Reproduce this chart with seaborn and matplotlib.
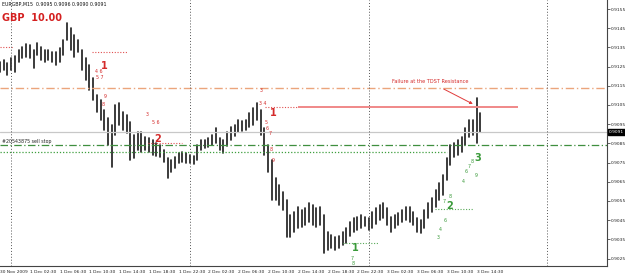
import numpy as np
import pandas as pd
import matplotlib
matplotlib.use("Agg")
import matplotlib.pyplot as plt
import seaborn as sns

# ---------------- data ----------------
# EURGBP M15 chart, bars sampled every 30 minutes (hours since 30 Nov 22:30)
bar_highs = [
    0.91274, 0.91284, 0.91269, 0.91295, 0.91305, 0.91337, 0.91352, 0.91368, 0.91363, 0.91337,
    0.91373, 0.91352, 0.91337, 0.91337, 0.91326, 0.91326, 0.91347, 0.91389, 0.91477, 0.91451,
    0.91415, 0.91389, 0.91337, 0.91295, 0.91258, 0.91191, 0.91102, 0.91076, 0.91024, 0.90982,
    0.90946, 0.91050, 0.91060, 0.91013, 0.90998, 0.90961, 0.90894, 0.90909, 0.90909, 0.90883,
    0.90878, 0.90868, 0.90852, 0.90842, 0.90816, 0.90774, 0.90763, 0.90779, 0.90800, 0.90805,
    0.90800, 0.90790, 0.90784, 0.90842, 0.90868, 0.90868, 0.90878, 0.90894, 0.90930, 0.90878,
    0.90868, 0.90909, 0.90935, 0.90946, 0.90972, 0.90967, 0.90972, 0.91008, 0.91034, 0.91060,
    0.91024, 0.90930, 0.90842, 0.90763, 0.90670, 0.90633, 0.90597, 0.90555, 0.90477, 0.90492,
    0.90519, 0.90503, 0.90513, 0.90539, 0.90529, 0.90513, 0.90519, 0.90477, 0.90388, 0.90373,
    0.90362, 0.90368, 0.90388, 0.90409, 0.90440, 0.90461, 0.90466, 0.90477, 0.90466, 0.90461,
    0.90492, 0.90513, 0.90529, 0.90539, 0.90513, 0.90466, 0.90477, 0.90487, 0.90503, 0.90519,
    0.90519, 0.90492, 0.90461, 0.90451, 0.90503, 0.90539, 0.90565, 0.90607, 0.90644, 0.90685,
    0.90774, 0.90842, 0.90852, 0.90868, 0.90883, 0.90930, 0.90972, 0.90972, 0.91086, 0.91008,
]
bar_lows = [
    0.91222, 0.91232, 0.91206, 0.91232, 0.91222, 0.91274, 0.91295, 0.91300, 0.91295, 0.91243,
    0.91310, 0.91284, 0.91274, 0.91284, 0.91274, 0.91258, 0.91274, 0.91310, 0.91389, 0.91337,
    0.91300, 0.91326, 0.91232, 0.91180, 0.91128, 0.91076, 0.91013, 0.90972, 0.90920, 0.90842,
    0.90727, 0.90894, 0.90946, 0.90920, 0.90904, 0.90763, 0.90774, 0.90816, 0.90805, 0.90816,
    0.90805, 0.90790, 0.90784, 0.90779, 0.90753, 0.90670, 0.90701, 0.90722, 0.90748, 0.90753,
    0.90748, 0.90748, 0.90743, 0.90763, 0.90816, 0.90826, 0.90831, 0.90842, 0.90852, 0.90816,
    0.90800, 0.90836, 0.90868, 0.90888, 0.90909, 0.90914, 0.90920, 0.90935, 0.90946, 0.90972,
    0.90894, 0.90790, 0.90701, 0.90555, 0.90555, 0.90529, 0.90503, 0.90362, 0.90362, 0.90388,
    0.90409, 0.90414, 0.90425, 0.90440, 0.90425, 0.90414, 0.90425, 0.90279, 0.90295, 0.90305,
    0.90295, 0.90305, 0.90321, 0.90331, 0.90368, 0.90388, 0.90399, 0.90409, 0.90420, 0.90399,
    0.90409, 0.90430, 0.90451, 0.90461, 0.90425, 0.90388, 0.90409, 0.90425, 0.90440, 0.90451,
    0.90440, 0.90425, 0.90388, 0.90383, 0.90409, 0.90461, 0.90492, 0.90519, 0.90555, 0.90581,
    0.90659, 0.90737, 0.90779, 0.90790, 0.90805, 0.90842, 0.90883, 0.90894, 0.90852, 0.90909,
]
bar_step_hours = 0.5

x_tick_hours = [0, 4, 8, 12, 16, 20, 24, 28, 32, 36, 40, 44, 48, 52, 56, 60, 64]
x_tick_labels = ["30 Nov 2009", "1 Dec 02:30", "1 Dec 06:30", "1 Dec 10:30", "1 Dec 14:30",
                 "1 Dec 18:30", "1 Dec 22:30", "2 Dec 02:30", "2 Dec 06:30", "2 Dec 10:30",
                 "2 Dec 14:30", "2 Dec 18:30", "2 Dec 22:30", "3 Dec 02:30", "3 Dec 06:30",
                 "3 Dec 10:30", "3 Dec 14:30"]
day_separators = [1.5, 25.5, 49.5, 73.5]
y_ticks = [0.9155, 0.9145, 0.9135, 0.9125, 0.9115, 0.9105, 0.9095, 0.9085,
           0.9075, 0.9065, 0.9055, 0.9045, 0.9035, 0.9025]

tdst_resistance_level = 0.9114
bid_level = 0.9091
sell_stop_level = 0.9084
support_level = 0.90805

# red dotted / solid TD segments: (price, start hour, end hour)
red_dotted_segments = [(0.91352, 0.0, 1.75), (0.91326, 12.4, 17.2),
                       (0.90852, 19.9, 24.4), (0.91040, 35.6, 40.0)]
red_solid_segments = [(0.91040, 40.0, 69.6)]
green_dotted_segments = [(0.90331, 46.1, 50.8), (0.90508, 58.4, 63.5)]

# ---------------- figure ----------------
sns.set_style("white")
plt.rcParams["font.family"] = ["DejaVu Sans"]

W, H = 625, 276
fig = plt.figure(figsize=(W / 100, H / 100), dpi=100)
ax = fig.add_axes([0, 10 / H, 607 / W, 1 - 10 / H])

rows = []
for i, (hi, lo) in enumerate(zip(bar_highs, bar_lows)):
    t = i * bar_step_hours
    rows.append({"t": t, "price": hi, "bar": i})
    rows.append({"t": t, "price": lo, "bar": i})
df = pd.DataFrame(rows)

sns.lineplot(data=df, x="t", y="price", units="bar", estimator=None, sort=False,
             color="#1a1a1a", lw=1.2, ax=ax, legend=False)

# horizontal levels
ax.axhline(tdst_resistance_level, color="#eba57c", lw=1.0, ls=(0, (6, 2, 1, 2)))
ax.axhline(bid_level, color="#c8c8c8", lw=0.9)
ax.axhline(sell_stop_level, color="#3f8f3f", lw=0.9, ls=(0, (6, 2, 1, 2)))
ax.hlines(support_level, 0, 60.0, color="#3f9f3f", lw=0.9, ls=(0, (1, 1.5)))

for p, a, b in red_dotted_segments:
    ax.hlines(p, a, b, color="#e05050", lw=0.8, ls=(0, (1, 1.5)))
for p, a, b in red_solid_segments:
    ax.hlines(p, a, b, color="#f08888", lw=1.4)
for p, a, b in green_dotted_segments:
    ax.hlines(p, a, b, color="#5aaa5a", lw=0.8, ls=(0, (1, 1.5)))

for d in day_separators:
    ax.axvline(d, color="#555555", lw=0.7, ls=(0, (1, 2)))

# TD labels
red = "#d42a2a"
green = "#3a9a3a"
big = dict(fontsize=7, fontweight="bold", ha="center", va="center")
small = dict(fontsize=3.4, ha="center", va="center")
ax.text(13.97, 0.91253, "1", color=red, **big)
ax.text(13.2, 0.91222, "4 6", color=red, **small)
ax.text(13.4, 0.91191, "5 7", color=red, **small)
ax.text(14.1, 0.91092, "9", color=red, **small)
ax.text(13.8, 0.91055, "8", color=red, **small)
ax.text(19.8, 0.91003, "3", color=red, **small)
ax.text(20.9, 0.90961, "5 6", color=red, **small)
ax.text(21.2, 0.90873, "2", color=red, **big)
ax.text(35.05, 0.91128, "3", color=red, **small)
ax.text(35.3, 0.91060, "3 4", color=red, **small)
ax.text(36.7, 0.91008, "1", color=red, **big)
ax.text(35.7, 0.90961, "5", color=red, **small)
ax.text(35.9, 0.90925, "6", color=red, **small)
ax.text(36.3, 0.90899, "7", color=red, **small)
ax.text(36.4, 0.90816, "8", color=red, **small)
ax.text(36.7, 0.90763, "9", color=red, **small)

ax.text(47.7, 0.90305, "1", color=green, **big)
ax.text(47.3, 0.90248, "7", color=green, **small)
ax.text(47.5, 0.90225, "8", color=green, **small)
ax.text(60.4, 0.90524, "2", color=green, **big)
ax.text(60.5, 0.90575, "8", color=green, **small)
ax.text(59.7, 0.90545, "7", color=green, **small)
ax.text(59.8, 0.90446, "6", color=green, **small)
ax.text(59.1, 0.90399, "4", color=green, **small)
ax.text(58.8, 0.90362, "3", color=green, **small)
ax.text(64.1, 0.90774, "3", color=green, **big)
ax.text(63.4, 0.90753, "8", color=green, **small)
ax.text(63.0, 0.90727, "7", color=green, **small)
ax.text(62.6, 0.90705, "6", color=green, **small)
ax.text(62.2, 0.90649, "4", color=green, **small)
ax.text(64.0, 0.90680, "9", color=green, **small)

ax.annotate("Failure at the TDST Resistance", xy=(63.5, 0.91055), xytext=(57.75, 0.91170),
            fontsize=3.6, color=red, ha="center", va="center",
            arrowprops=dict(arrowstyle="-|>", color="#e03a3a", lw=0.7, mutation_scale=4,
                            shrinkA=2, shrinkB=0))

ax.text(0.004, 0.90862, "#20543875 sell stop", transform=ax.get_yaxis_transform(),
        fontsize=3.4, color="#222222", ha="left", va="center")

# axes formatting
ax.set_xlim(0, 607 / 7.446)
ax.set_ylim(0.90211, 0.91597)
ax.yaxis.tick_right()
ax.set_yticks(y_ticks)
ax.set_yticklabels([f"{v:.4f}" for v in y_ticks])
ax.set_xticks(x_tick_hours)
ax.set_xticklabels(x_tick_labels, ha="left")
ax.tick_params(axis="both", labelsize=3.2, length=2, width=0.5, pad=0.8, colors="#222222")
ax.set_xlabel("")
ax.set_ylabel("")
for s in ["top", "left"]:
    ax.spines[s].set_visible(False)
for s in ["right", "bottom"]:
    ax.spines[s].set_color("#444444")
    ax.spines[s].set_linewidth(0.8)

# current bid box
ax.text(1.003, bid_level, f"{bid_level:.4f}", transform=ax.get_yaxis_transform(),
        fontsize=3.2, color="white", ha="left", va="center",
        bbox=dict(boxstyle="square,pad=0.15", fc="black", ec="black"))

fig.text(2 / W, 1 - 4 / H, "EURGBP,M15  0.9095 0.9096 0.9090 0.9091", fontsize=3.4,
         color="#111111", ha="left", va="center")
fig.text(2 / W, 1 - 18 / H, "GBP  10.00", fontsize=7, fontweight="bold",
         color="#d42020", ha="left", va="center")

fig.savefig("out.png", dpi=100)
